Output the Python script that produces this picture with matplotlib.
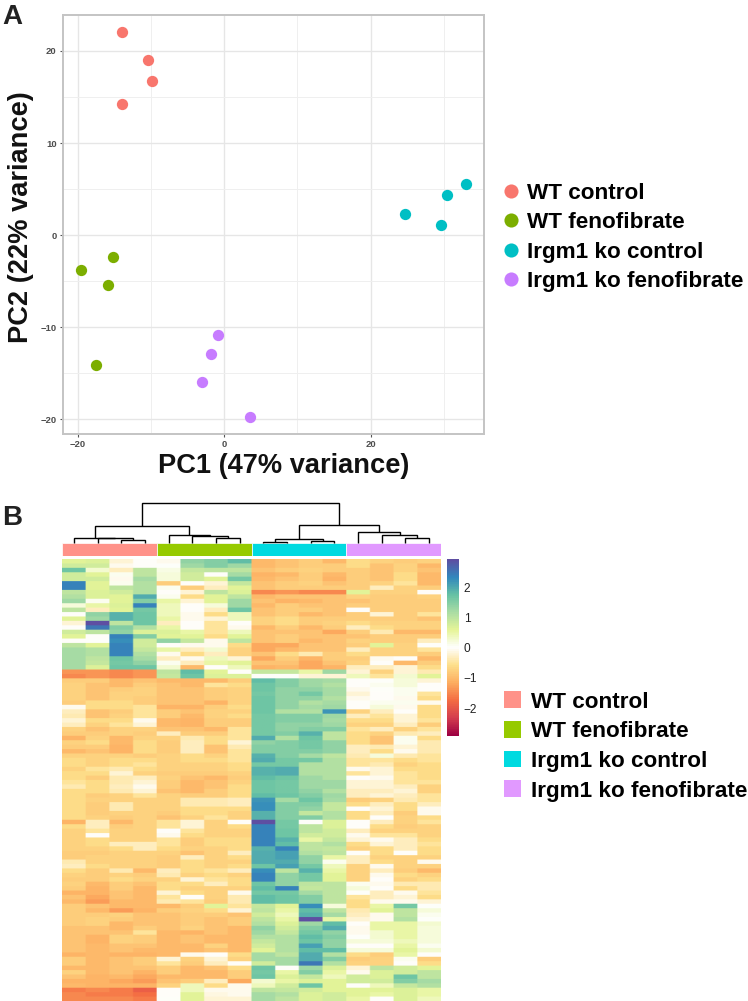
import numpy as np
import matplotlib
matplotlib.use("Agg")
import matplotlib.pyplot as plt
from matplotlib.colors import LinearSegmentedColormap
from matplotlib.patches import Patch

plt.rcParams['font.family'] = ['Liberation Sans', 'DejaVu Sans']

groups = ["WT control", "WT fenofibrate", "Irgm1 ko control", "Irgm1 ko fenofibrate"]
pca_x = [[-13.9, -10.45, -9.85, -13.9], [-15.2, -19.5, -15.8, -17.5],
         [33.0, 30.4, 24.7, 29.6], [-0.8, -1.8, -3.0, 3.6]]
pca_y = [[22.0, 19.0, 16.7, 14.2], [-2.4, -3.8, -5.4, -14.1],
         [5.6, 4.4, 2.3, 1.1], [-10.8, -12.9, -15.9, -19.7]]
pca_colors = ["#F8766D", "#7CAE00", "#00BFC4", "#C77CFF"]
anno_colors = ["#FF9289", "#96CA00", "#00DAE0", "#E199FF"]

wt_control = [
[.6,.7,-.2,0],[.8,.8,-.1,.0],[1.7,.3,-.3,1.0],[.8,.6,.1,1.0],[.8,.8,-.1,1.2],
[2.4,.6,.1,1.1],[2.4,.6,1.0,1.1],[1,.7,.8,1.1],[1.1,.7,.6,2.0],[1.3,.1,.6,1.5],
[.2,.5,.7,2.4],[1.0,-.3,.6,1.6],[0,1.4,1.9,1.7],[.6,1.3,1.9,1.7],[-.2,3.0,1.0,1.7],
[.0,2.5,1.5,1.1],[.8,1.0,1.4,.7],[.6,0,2.4,1.5],[0,.05,2.3,.8],[1.0,.6,2.4,.8],
[1.2,1.1,2.4,.9],[1.2,1.1,2.4,1.1],[1.2,1,1.7,1.2],[1.2,.9,1.6,1.4],[1.2,.7,1.7,1.7],
[-1.4,-1.4,-1.5,-1.4],[-1.5,-1.4,-1.5,-1.4],[-.8,-.8,-1,-.9],[-.7,-.9,-1.0,-.8],[-.7,-.9,-.8,-.7],
[-.7,-.9,-.7,-.7],[-.7,-.9,-.7,-.8],[-.8,-.6,-.6,-.8],[-.1,-.6,-.6,-.5],[-.3,-.9,-.8,-.5],
[-.4,-.9,-.7,-.5],[-.2,-.6,-.6,-.1],[-.3,-.7,-.5,-.2],[-.7,-.9,-.7,-.7],[-.8,-.8,-.7,-.8],
[-1.1,-.7,-1,-.7],[-.7,-.6,-1,-.6],[-.8,-.8,-1.1,-.6],[-1,-.9,-1.1,-.6],[-.7,-.7,-.7,-.8],
[-.6,-.7,-.6,-.6],[-.6,-.7,-.6,-.5],[-.7,-.5,-.4,-.6],[-.6,-.6,-.2,-.7],[-.6,-.8,-.4,-.3],
[-.5,-.6,-.4,-.2],[-.4,-.6,-.3,-.1],[-.6,-.6,-.4,-.2],[-.6,-.8,-.7,-.5],[-.6,-.7,-.7,-.7],
[-.6,-.8,-.4,-.7],[-.6,-.8,-.4,-.7],[-.6,-.8,-.7,-.7],[-.6,-.7,-.8,-.7],[-1.1,-.3,-1,-.7],
[-.6,-.3,-.8,-.7],[-.7,-.5,-.7,-.7],[-.7,0,-.7,-.7],[-.7,-.6,-.7,-.7],[-.7,-.6,-.3,-.3],
[-.7,-.7,-.6,-.3],[-.8,-.8,-.7,-.7],[-.8,-.7,-.7,-.7],[-.4,-.7,-.7,-.7],[-.3,-.6,-.7,-.7],
[-.6,-.8,-.4,-1],[-.7,-.8,-.7,-.8],[-.8,-.8,-.6,-.7],[-.7,-1,-.8,-.9],[-.8,-1.1,-.8,-1],
[-1.1,-1.1,-.9,-1],[-.9,-1.2,-.9,-1],[-1,-1.3,-1,-1],[-.8,-.9,-1,-1],[-.8,-1,-1.3,-1.1],
[-.8,-.8,-.7,-.9],[-.8,-.7,-.8,-.9],[-.8,-.7,-1,-.9],[-.9,-.9,-1,-.8],[-.9,-.9,-.9,-.5],
[-.9,-1.1,-.7,-.8],[-.9,-1.1,-.7,-.8],[-.9,-1,-.9,-.9],[-.9,-1,-.9,-1],[-1.1,-1,-1.1,-1.1],
[-.8,-1,-.9,-.8],[-.8,-1,-.9,-.8],[-1,-1,-.9,-.9],[-.7,-1,-.9,-1.1],[-.9,-1.1,-1,-1.2],
[-1.1,-1.1,-1.2,-1.3],[-1,-1.1,-1.1,-1.1],[-1.6,-1.5,-1.6,-1.9],[-1.5,-1.6,-1.6,-1.7],[-1.5,-1.5,-1.5,-1.6]]

wt_fenofibrate = [
[-.1,1.4,1.5,1.8],[.05,1.3,1.5,1.3],[.15,.9,1,1.0],[.2,.8,0,1.2],[.2,.8,.6,1.6],
[-.8,0,-.2,.9],[.1,-.8,-.3,.6],[0,-.2,1.0,.7],[.1,-.6,.6,1.0],[.5,-.2,.6,1.3],
[.4,0,.2,1.3],[.4,.0,-.3,1.7],[.4,-.1,-.6,.4],[.5,-.1,-.2,.4],[-.3,0,-.5,.0],
[.5,0,-.5,-.05],[.7,.5,-.5,.4],[.6,.6,-.6,.6],[1.4,.9,-.1,1],[0,-.1,-.1,-.6],
[.5,-.3,.3,-.7],[-.05,-.6,-.3,-.7],[-.3,-.1,.4,-.2],[.1,-.3,.5,.6],[.3,-1,0,.4],
[1.0,1.8,.6,.0],[.9,1.7,.7,.7],[-1,-1,-1,-.8],[-.9,-1.0,-.5,-.6],[-.9,-.9,-.8,-.7],
[-.9,-.9,-.8,-.7],[-.9,-.9,-.8,-.7],[-.9,-.9,-1.1,-.7],[-1.1,-1.1,-.8,-.6],[-.8,-.9,-.7,-.7],
[-.8,-1,-.7,-.6],[-1,-1.1,-.8,-.8],[-1,-1.1,-.8,-.8],[-.9,-.9,-1,-.5],[-.3,-.8,-.8,-.5],
[-.7,-.4,-.6,-.5],[-.8,-.3,-.6,-.2],[-.8,-.3,-.9,-.4],[-.8,-.3,-.9,-.5],[-.7,-.6,-.7,-.5],
[-.7,-.6,-.6,-.5],[-.7,-.7,-.7,-.6],[-.7,-.7,-.7,-.6],[-.8,-.8,-.8,-.7],[-.7,-.9,-1,-.8],
[-.8,-1,-.9,-.7],[-.8,-1,-.9,-.6],[-.9,-1,-.8,-.6],[-.7,-.8,-.8,-.6],[-.7,-.4,-.4,-.3],
[-.7,-.4,-.4,-.3],[-.7,-.6,-.6,-.6],[-.8,-.6,-.6,-.7],[-.9,-.7,-.5,-.7],[-.5,-.2,-.7,0],
[-.5,-.2,-.7,-.6],[0,-.5,-.7,-.7],[-.1,-.6,-.7,-.7],[-.5,-.8,-.6,-.6],[-.5,-.8,-.6,-.6],
[-.6,-.7,-.7,-.6],[-.7,-.9,-.7,-.3],[-.8,-.3,-.7,-.6],[-.8,-.6,-.7,-.7],[-.8,-.6,-.7,-.6],
[-.3,-.6,-.5,-.3],[-.4,-.7,-.6,-.7],[-.7,-.2,-.5,-.6],[-.6,-.6,-.3,-.6],[-.6,-.7,-.7,-.7],
[-.2,-.6,-.7,-.05],[-.5,0,-.7,-.4],[-.4,-.5,-.8,-.4],[-1,-.8,.6,-.5],[-.8,-.7,-.6,-.2],
[-.9,-.8,-.8,-.9],[-.9,-.8,-.9,-.8],[-.9,-.8,-.9,-.8],[-.9,-.7,-.9,-1],[-1,-1.1,-.9,-1],
[-1,-.9,-1,-1],[-1,-.9,-1,-1],[-1,-1,-.7,-1],[-1,-1,-.9,-1],[-1,-.05,0,-.6],
[-.2,-.7,-.2,-.7],[-.5,-.8,-.3,0],[-.8,-1,-.9,-.6],[-.8,-1,-1,-.8],[-1,-1,-1,-.8],
[-.9,-.8,-.3,-1.2],[-.7,.4,-.6,-.1],[0,.4,-.1,-.05],[0,.6,-.15,-.1],[.05,.6,-.2,-.2]]

ko_control = [
[-1.0,-.9,-.8,-1.0],[-1,-.9,-.8,-.8],[-.9,-.8,-.7,-.8],[-1.1,-1,-.8,-1],[-1,-.9,-.8,-1.1],
[-.9,-.8,-.7,-.9],[-.9,-.8,-.8,-.8],[-1.5,-1.4,-1.5,-1.5],[-1,-.9,-.9,-.9],[-.9,-1.1,-1,-.9],
[-1,-.8,-.9,-.9],[-.9,-.8,-.8,-.9],[-.9,-.8,-1,-.9],[-.7,-.6,-.8,-.8],[-.7,-.6,-.8,-.7],
[-1,-.8,-1,-.8],[-.9,-.9,-.9,-1.2],[-.9,-.8,-.9,-.9],[-.9,-.8,-1,-.9],[-1.2,-1.2,-.9,-.9],
[-1.2,-1,-.9,-.9],[-.9,-.6,-.4,-.8],[-1.2,-.8,-1.1,-.8],[-.9,-.9,-1.2,-.9],[-1.1,-1,-1.2,-1.1],
[.9,.9,.5,1.3],[.0,.05,-.2,-.2],[1.8,1.5,1.3,1.2],[1.7,1.5,1.3,1.1],[1.7,1.4,1.4,1.2],
[1.6,1.4,1.6,1.2],[1.7,1.4,1.4,1.1],[1.7,1.4,1.1,1.2],[1.7,1.4,1.2,1.3],[1.7,1.1,1.1,2.2],
[1.6,1.5,1.5,1.3],[1.6,1.5,1.5,1.2],[1.6,1.4,1.4,1.3],[1.6,1.4,1.5,1.5],[1.6,1.5,1.9,1.0],
[2.0,1.1,1.7,1.0],[1.4,1.5,1.6,1.4],[1.5,1.5,1.6,1.4],[1.5,1.5,1.5,1.4],[1.9,1.5,1.2,1.0],
[2.0,1.6,1.6,1.1],[1.6,1.6,1.1,1.1],[1.9,2.0,1.1,1.1],[1.9,2.0,1.1,1.1],[1.8,1.7,1.3,1.1],
[1.7,1.6,1.3,1.3],[1.7,1.6,1.3,1.3],[1.7,1.6,1.4,1.1],[1.8,1.7,1.5,1.3],[2.2,1.2,1.7,1.2],
[2.3,1.5,1.5,.9],[2.3,1.5,1.4,.9],[1.9,1.5,.9,1.1],[1.9,1.5,1.5,1.1],[3.0,1.6,0,.7],
[2.4,1.6,1,.7],[2.4,1.7,1.0,.8],[2.4,1.7,.8,.8],[2.4,1.9,.5,.9],[2.4,1.8,1,1.1],
[1.9,2.4,1,.9],[2,2.1,1.1,1],[2,2.1,1.4,.5],[2,2,1.4,.1],[1.7,2.1,1.6,.4],
[2.3,1,1.9,.5],[2.4,1.4,1.6,.6],[2.4,1.4,1.6,.6],[1.7,1.4,1.0,1],[1.8,2.4,.9,1],
[1.6,1.6,1.2,1],[1.8,1.7,1.5,1],[1.8,1.7,1.5,1],[.9,.6,2.3,.2],[1,.5,1.8,1.0],
[.8,.4,1.9,1.2],[1,.5,3,.5],[1.1,.7,1.3,1.8],[1.4,.8,1.5,2],[1.3,.9,1.6,1.4],
[1.1,1.1,1.8,1.5],[.9,1.1,1.7,1.4],[.8,1.1,2.1,1.4],[.6,1.1,1.8,1.8],[1.2,1,2.0,1.1],
[1.2,1.2,2,1.5],[.8,1.2,2.5,1.1],[1.7,0,1.3,.7],[1.6,.5,1.5,.5],[1.7,.7,.9,.4],
[.3,.5,.7,.6],[.4,.8,1.7,.6],[1,.9,.8,.6],[1.2,1.1,.7,.8],[1.2,1,.7,.8]]

ko_fenofibrate = [
[-.6,-.7,-.8,-.7],[-.6,-.9,-.7,-1],[-.8,-.9,-.7,-.9],[-.8,-.9,-.6,-1],[-.8,-.9,-.6,-1],
[-.8,-.7,-.5,-1],[-.8,-.3,-.7,-.8],[.6,-.7,-.7,0],[-.7,-.8,-.8,-.7],[-.9,-.8,-.8,-.8],
[-.8,-.8,-.8,-.8],[0,-.8,-.8,-.8],[-.8,-.2,-.8,-.5],[-.8,-.8,-.8,-.9],[-.6,-.7,-.7,-.7],
[-.3,-.6,-.7,-.7],[-.8,-.4,-1.0,-1],[-.9,-.8,-.8,-.8],[-.7,-.8,-.8,-.3],[-.8,.6,-.7,0],
[-.3,-.7,-.7,-.5],[-.6,-.7,-.7,-.8],[-.8,-.05,0,-1],[-.7,0,-1.0,-.8],[-.3,-.3,-.2,-.6],
[-.2,-.7,-.2,-.4],[.4,-.5,.3,.6],[0,.05,.2,-.2],[0,.1,.2,0],[-.1,.05,.1,0],
[-.2,0,.1,-.5],[-.1,0,-.1,-.6],[0,.1,.1,-.1],[.0,.2,-.05,-.6],[-.7,-.3,0,-.6],
[-.3,-.5,-.2,-.6],[-.6,-.6,-.2,-.5],[-.7,-.7,-.3,-.8],[-.5,-.3,-.7,-.5],[-.6,-.7,-.4,-.3],
[-.6,-.9,.1,-.6],[-.6,-.9,.1,-.4],[-.3,-.4,-.2,-.4],[-.3,-.6,-.05,-.4],[-.4,.2,-.4,-.5],
[-.5,-.5,-.6,-.5],[-.5,-.4,-.7,-.6],[-.05,-.2,-.6,-.6],[-.5,-.2,-.5,-.6],[0,-.05,-.5,-.6],
[-.2,-.2,-.5,-.5],[-.2,-.2,-.3,-.7],[-.3,-.3,-.2,-.7],[-.3,-.2,-.3,-.5],[-.8,-.7,-.4,-.5],
[-.6,-.3,-.6,-.3],[0,-.2,-.6,-.1],[-.6,-.3,-.8,-.1],[-.6,0,-.7,-.6],[0,-.3,-.7,-.5],
[0,-.6,-.8,-.7],[-.3,-.7,-.7,-.7],[-.1,-.5,-.5,-.7],[-.2,-.1,-.3,-.6],[-.6,-.2,-.3,-.5],
[-.7,-.6,-.3,-.6],[0,-.6,0,-.6],[-.3,-.7,-.7,-.7],[-.3,-.6,-.7,-.1],[-.7,-.1,-.7,-.7],
[-.7,-.3,-.8,-1],[-.7,-.05,-.6,-.7],[-.7,0,-.7,-.6],[.1,-.1,-.4,-.4],[.2,0,-.6,-.4],
[.05,-.3,-.05,-.5],[-.5,-.3,-.2,-.6],[-.6,-.05,-.05,-.2],[-.6,.5,1.6,.05],[-.4,.6,1,.2],
[-.3,-.1,1,.1],[-.2,-.1,1.1,.05],[0,.5,.5,.3],[-.1,.5,.5,.2],[-.05,.3,.5,.2],
[.05,.3,.5,.2],[.2,.2,.4,.2],[0,0,.5,.1],[.2,.2,.6,.3],[-.6,-.8,.5,0],
[-.8,-.7,.1,-.8],[-.7,-.7,0,-.6],[-.2,1.0,.8,.6],[-.1,.7,.8,1],[.8,.7,1.7,1],
[.8,.8,1.5,1.2],[0,.4,.9,1.1],[.6,.6,.7,.5],[.6,.5,.7,.5],[.5,0,.7,.4]]

# dendrogram: nested (left, right, merge height); integers are columns
dendro = (
    (
        (0, (1, (2, 3, 2.7), 4.7), 5.4),
        (4, (5, (6, 7, 5.4), 7.4), 8.4),
        16.7),
    (
        ((8, 9, 1.4), (10, 11, 2.0), 3.7),
        (12, (13, (14, 15, 5.4), 7.7), 10.7),
        18.0),
    40.0)

cbar_ticks = [-2, -1, 0, 1, 2]
spectral = ["#9E0142", "#D53E4F", "#F46D43", "#FDAE61", "#FEE08B", "#FFFFFF",
            "#E6F598", "#ABDDA4", "#66C2A5", "#3288BD", "#5E4FA2"]
cmap = LinearSegmentedColormap.from_list("rdspec", spectral, N=100)
VMIN, VMAX = -2.93, 2.95

W, H = 748, 1001
fig = plt.figure(figsize=(W / 100, H / 100), dpi=100, facecolor="white")

def axpx(x0, y0, x1, y1):
    return fig.add_axes([x0 / W, 1 - y1 / H, (x1 - x0) / W, (y1 - y0) / H])

# ---------- Panel A
ax = axpx(63, 15, 484, 434)
ax.set_xlim(-22, 35.5)
ax.set_ylim(-21.6, 23.9)
ax.set_axisbelow(True)
for g, c, xs, ys in zip(groups, pca_colors, pca_x, pca_y):
    ax.scatter(xs, ys, s=66, color=c, linewidths=0, label=g, zorder=3)
ax.set_xticks([-20, 0, 20])
ax.set_yticks([-20, -10, 0, 10, 20])
ax.set_xticklabels(["\u221220", "0", "20"])
ax.set_yticklabels(["\u221220", "\u221210", "0", "10", "20"])
ax.set_xticks([-10, 10, 30], minor=True)
ax.set_yticks([-15, -5, 5, 15], minor=True)
ax.grid(True, which="major", color="#E6E6E6", lw=1.0)
ax.grid(True, which="minor", color="#EFEFEF", lw=0.7)
ax.tick_params(which="major", length=2.5, width=0.8, color="#555555", labelcolor="#4D4D4D",
               labelsize=6.8, pad=2)
ax.tick_params(which="minor", length=0)
for t in ax.get_xticklabels() + ax.get_yticklabels():
    t.set_fontweight("bold")
for s in ax.spines.values():
    s.set_color("#C4C4C4")
    s.set_linewidth(1.4)
ax.set_xlabel("PC1 (47% variance)", fontsize=19.6, fontweight="bold", color="#111111")
ax.xaxis.set_label_coords((283.5 - 63) / 421, -(466 - 434) / 419, transform=ax.transAxes)
ax.xaxis.label.set_va("center")
ax.set_ylabel("PC2 (22% variance)", fontsize=19.6, fontweight="bold", color="#111111")
ax.yaxis.set_label_coords(-(63 - 21) / 421, (434 - 217) / 419, transform=ax.transAxes)
ax.yaxis.label.set_va("center")
leg = ax.legend(loc="center left", bbox_to_anchor=((500 - 63) / 421, (434 - 237.5) / 419),
                frameon=False, fontsize=16.2, handlelength=1.0, handletextpad=0.18,
                labelspacing=0.38, borderpad=0, borderaxespad=0, markerscale=1.25,
                scatteryoffsets=[0.5])
for t in leg.get_texts():
    t.set_fontweight("bold")
fig.text(2 / W, 1 - 24 / H, "A", fontsize=20, fontweight="bold", color="#222222")
fig.text(2 / W, 1 - 525 / H, "B", fontsize=20, fontweight="bold", color="#222222")

# ---------- Panel B heatmap
matrix = np.hstack([np.array(wt_control), np.array(wt_fenofibrate),
                    np.array(ko_control), np.array(ko_fenofibrate)])
nrows, ncols = matrix.shape
hm = axpx(62, 559, 441, 1001)
cells = np.repeat(np.repeat(matrix, 4, axis=0), 16, axis=1)
hm.imshow(cells, cmap=cmap, vmin=VMIN, vmax=VMAX, aspect="auto",
          interpolation="bilinear", interpolation_stage="rgba")
hm.axis("off")

# annotation bar
an = axpx(62, 543, 441, 556)
an.set_xlim(0, ncols)
an.set_ylim(0, 1)
start = 0
for arr, c in zip([wt_control, wt_fenofibrate, ko_control, ko_fenofibrate], anno_colors):
    n = len(arr[0])
    an.bar(start + n / 2, 1, width=n, color=c, edgecolor="white", linewidth=0.5)
    start += n
an.axis("off")

# dendrogram
dn = axpx(62, 500, 441, 543)
dn.set_xlim(0, ncols)
dn.set_ylim(0, 43)
def draw(node):
    if isinstance(node, int):
        return node + 0.5, 0.0
    xl, hl = draw(node[0])
    xr, hr = draw(node[1])
    h = node[2]
    dn.plot([xl, xl, xr, xr], [hl, h, h, hr], color="black", lw=1.0,
            solid_joinstyle="miter", solid_capstyle="butt", clip_on=False)
    return (xl + xr) / 2, h
draw(dendro)
dn.axis("off")

# colorbar
cb = axpx(447, 559, 459, 736)
grad = np.linspace(VMAX, VMIN, 200).reshape(-1, 1)
cb.imshow(grad, cmap=cmap, vmin=VMIN, vmax=VMAX, aspect="auto", extent=[0, 1, VMIN, VMAX])
cb.set_xticks([])
cb.yaxis.tick_right()
cb.set_yticks(cbar_ticks)
cb.set_yticklabels(["\u22122", "\u22121", "0", "1", "2"])
cb.tick_params(axis="y", length=0, pad=3.5, labelsize=8.6, labelcolor="#222222")
for s in cb.spines.values():
    s.set_visible(False)

# heatmap legend
handles = [Patch(facecolor=c, edgecolor="none", label=g) for c, g in zip(anno_colors, groups)]
leg2 = fig.legend(handles=handles, loc="center left",
                  bbox_to_anchor=(504 / W, 1 - 746.5 / H), frameon=False, fontsize=16.2,
                  handlelength=0.77, handleheight=0.76, handletextpad=0.44, labelspacing=0.38,
                  borderpad=0, borderaxespad=0)
for t in leg2.get_texts():
    t.set_fontweight("bold")

fig.savefig("out.png", dpi=100, facecolor="white")
